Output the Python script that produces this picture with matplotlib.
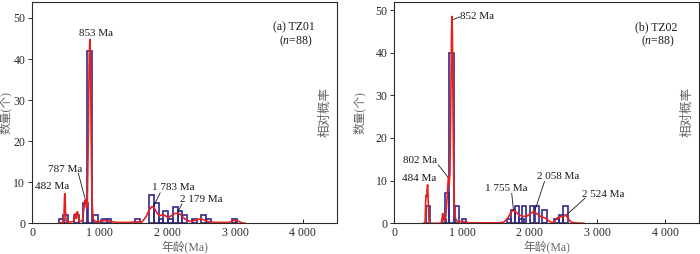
#!/usr/bin/env python3
import matplotlib
matplotlib.use("agg")
import matplotlib.pyplot as plt

plt.rcParams["font.family"] = ["Liberation Serif", "Noto Sans CJK SC"]
plt.rcParams["mathtext.fontset"] = "custom"
plt.rcParams["mathtext.it"] = "Liberation Serif:italic"
plt.rcParams["mathtext.rm"] = "Liberation Serif"

# histogram bins: left edge (Ma) and count
tz01_left = [400, 460, 615, 750, 815, 900, 1030, 1100, 1520, 1730, 1805, 1870,
             1940, 2010, 2080, 2150, 2220, 2360, 2500, 2570, 2960]
tz01_count = [1, 2, 2, 5, 42, 2, 1, 1, 1, 7, 5, 1, 3, 1, 4, 3, 2, 1, 2, 1, 1]
tz01_width = 70

tz02_left = [462, 700, 750, 815, 895, 1000, 1660, 1720, 1783, 1848, 1885,
             2005, 2075, 2185, 2360, 2425, 2495]
tz02_count = [4, 1, 7, 40, 4, 1, 1, 3, 4, 1, 4, 4, 4, 3, 1, 2, 4]
tz02_width = 65

# relative probability curves (count scale)
tz01_age = [400, 455, 470, 478, 482, 487, 495, 505, 560, 620, 635, 648, 660,
            672, 685, 700, 740, 760, 775, 787, 795, 805, 815, 830, 843, 853,
            862, 872, 885, 900, 930, 990, 1030, 1080, 1130, 1170, 1250, 1450,
            1520, 1560, 1620, 1680, 1730, 1770, 1800, 1840, 1880, 1930, 1960,
            2010, 2060, 2110, 2160, 2200, 2260, 2320, 2380, 2440, 2490, 2540,
            2600, 2700, 2900, 2970, 3000, 3040, 3100, 3150]
tz01_prob = [0, 0.1, 2, 6.5, 7.2, 6, 1.5, 0.3, 0.3, 0.5, 2.3, 1.2, 2.6, 2.8,
             0.8, 0.4, 0.6, 3, 5.2, 5.8, 4.5, 3.6, 5, 22, 41, 44.8, 40, 20, 5,
             1, 0.5, 0.3, 0.6, 0.7, 0.6, 0.4, 0.2, 0.2, 0.4, 0.3, 0.3, 1.5,
             3.3, 4.1, 3.8, 2.6, 1.8, 2.1, 1.9, 1.4, 1.9, 2.4, 2.4, 2.0, 1.0,
             0.5, 0.6, 0.9, 1.1, 0.8, 0.4, 0.2, 0.2, 0.6, 0.8, 0.5, 0.1, 0]

tz02_age = [430, 455, 463, 470, 478, 485, 492, 500, 510, 520, 690, 705, 715,
            725, 740, 760, 780, 795, 802, 810, 822, 835, 845, 852, 858, 868,
            880, 895, 920, 950, 1000, 1060, 1100, 1550, 1620, 1680, 1720, 1755,
            1790, 1840, 1900, 1960, 2020, 2058, 2100, 2160, 2230, 2290, 2330,
            2370, 2410, 2460, 2500, 2524, 2555, 2600, 2650, 2800]
tz02_prob = [0, 0.2, 5, 6.6, 6.2, 8, 9, 6, 1, 0, 0, 1, 2.3, 1, 0.5, 1.5, 6,
             10, 11, 9, 12, 30, 45, 48.5, 44, 25, 7, 1.5, 0.6, 0.3, 0.4, 0.3,
             0.1, 0.1, 0.3, 1.3, 2.5, 3.1, 2.7, 2.0, 1.6, 1.7, 2.3, 2.8, 2.3,
             1.6, 1.2, 0.5, 0.1, 0.5, 1.3, 1.5, 1.6, 2.0, 1.4, 0.4, 0.1, 0]

x_ticks = [0, 1000, 2000, 3000, 4000]
x_ticklabels = ["0", "1 000", "2 000", "3 000", "4 000"]
y_ticks = [0, 10, 20, 30, 40, 50]

# peak labels: text, text position, line start, line end (None = no line)
tz01_labels = [
    ("853 Ma", (943, 46.3), None, None),
    ("787 Ma", (485, 13.2), (681, 12.2), (780, 6.1)),
    ("482 Ma", (287, 8.9), None, None),
    ("1 783 Ma", (2079, 8.7), (1891, 7.4), (1802, 4.4)),
    ("2 179 Ma", (2499, 5.7), (2213, 4.7), (2154, 2.8)),
]
tz02_labels = [
    ("802 Ma", (380, 14.8), (650, 13.7), (788, 10.9)),
    ("484 Ma", (372, 10.5), None, None),
    ("1 755 Ma", (1660, 8.2), (1734, 7.0), (1759, 3.1)),
    ("2 058 Ma", (2423, 10.9), (2218, 9.8), (2078, 3.1)),
    ("2 524 Ma", (3087, 6.8), (2817, 5.9), (2546, 2.0)),
]

BAR_EDGE = "#34278a"
CURVE = "#e8201e"
FRAME = "#2a2a2a"
CN_GRAY = "#666666"

fig = plt.figure(figsize=(7.0, 2.54), dpi=100)
ax1 = fig.add_axes([0.046, 0.121, 0.435, 0.873])
ax2 = fig.add_axes([0.5633, 0.121, 0.4353, 0.873])


def draw_panel(ax, left, count, width, age, prob, labels, ymax, title, ylab_x):
    ax.bar(left, count, width=width, align="edge", facecolor="none",
           edgecolor=BAR_EDGE, linewidth=1.2, zorder=2)
    ax.plot(age, prob, color=CURVE, linewidth=1.2, zorder=3)
    for text, pos, start, end in labels:
        ax.text(pos[0], pos[1], text, fontsize=8, ha="center", va="center",
                color="#1a1a1a", zorder=4)
        if start is not None:
            ax.plot([start[0], end[0]], [start[1], end[1]], color="#1a1a1a",
                    linewidth=0.6, zorder=4)
    ax.set_xlim(0, 4500)
    ax.set_ylim(0, ymax)
    ax.set_xticks(x_ticks)
    ax.set_xticklabels(x_ticklabels)
    ax.set_yticks(y_ticks)
    ax.tick_params(axis="x", direction="in", length=3, width=0.7,
                   labelsize=8.5, colors=FRAME, pad=3)
    ax.tick_params(axis="y", direction="out", length=3, width=0.7,
                   labelsize=8.5, colors=FRAME, pad=2)
    for sp in ax.spines.values():
        sp.set_color(FRAME)
        sp.set_linewidth(0.8)
    ax.set_xlabel("年龄(Ma)", fontsize=8.5, color=CN_GRAY, labelpad=1)
    ax.set_ylabel("数量(个)", fontsize=8.5, color=CN_GRAY)
    ax.yaxis.set_label_coords(ylab_x, 0.5)
    ax.text(0.963, 0.5, "相对概率", transform=ax.transAxes, rotation=90,
            fontsize=9, color=CN_GRAY, ha="center", va="center")
    ax.text(0.86, 0.885, title, transform=ax.transAxes, fontsize=8.5,
            ha="center", va="center", color="#1a1a1a")
    ax.text(0.865, 0.82, "($n$=88)", transform=ax.transAxes, fontsize=8.5,
            ha="center", va="center", color="#1a1a1a")


draw_panel(ax1, tz01_left, tz01_count, tz01_width, tz01_age, tz01_prob,
           tz01_labels, 54, "(a) TZ01", -0.066)
draw_panel(ax2, tz02_left, tz02_count, tz02_width, tz02_age, tz02_prob,
           tz02_labels, 52, "(b) TZ02", -0.095)

# 852 Ma label on right panel sits to the right of the peak
ax2.text(975, 48.4, "852 Ma", fontsize=8, ha="left", va="center",
         color="#1a1a1a", zorder=4)
ax2.plot([875, 965], [47.8, 48.4], color="#1a1a1a", linewidth=0.6, zorder=4)

fig.savefig("out.png", dpi=100)
